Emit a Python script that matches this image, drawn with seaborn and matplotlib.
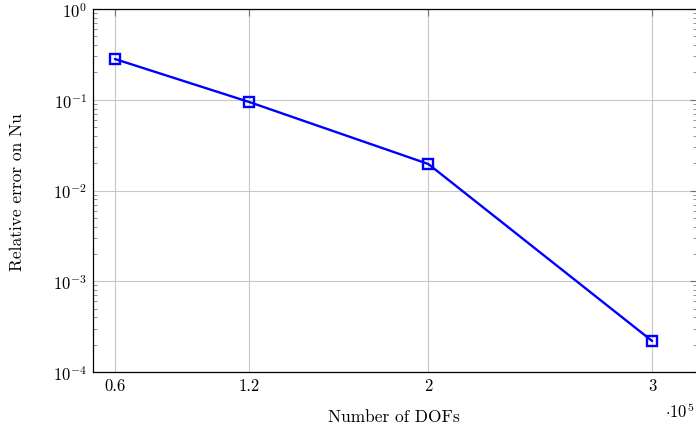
import matplotlib
matplotlib.use("Agg")
import matplotlib.pyplot as plt
import seaborn as sns
import pandas as pd
import numpy as np
from matplotlib.ticker import LogLocator, FixedLocator, NullFormatter

dofs = [0.6, 1.2, 2.0, 3.0]          # x 10^5
rel_err = [0.281, 0.0944, 0.0196, 0.00022]
xtick_vals = [0.6, 1.2, 2.0, 3.0]
xtick_labels = ["0.6", "1.2", "2", "3"]

sns.set_style("white")
plt.rcParams["font.family"] = ["cmr10", "DejaVu Serif"]
plt.rcParams["mathtext.fontset"] = "cm"
plt.rcParams["axes.formatter.use_mathtext"] = True
plt.rcParams["text.color"] = "black"
plt.rcParams["axes.labelcolor"] = "black"
plt.rcParams["xtick.labelcolor"] = "black"
plt.rcParams["ytick.labelcolor"] = "black"

df = pd.DataFrame({"dofs": dofs, "err": rel_err})

fig = plt.figure(figsize=(6.96, 4.27), dpi=100)
ax = fig.add_axes([92.6 / 696, 1 - 373 / 427, (696.8 - 92.6) / 696, (373 - 10) / 427])

sns.lineplot(data=df, x="dofs", y="err", ax=ax, color="#0000ff", lw=1.7,
             marker="s", markersize=7, markerfacecolor="none",
             markeredgecolor="#0000ff", markeredgewidth=1.7, zorder=5)

ax.set_yscale("log")
ax.set_ylim(1e-4, 1)
ax.set_xlim(0.5, 3.2)

ax.xaxis.set_major_locator(FixedLocator(xtick_vals))
ax.set_xticklabels(xtick_labels)
ax.yaxis.set_major_locator(LogLocator(base=10, numticks=10))
ax.yaxis.set_minor_locator(LogLocator(base=10, subs=np.arange(2, 10), numticks=10))
ax.yaxis.set_minor_formatter(NullFormatter())

ax.grid(True, which="major", color="#c8c8c8", lw=0.8)
ax.set_axisbelow(True)
for s in ax.spines.values():
    s.set_color("black")
    s.set_linewidth(0.9)

ax.tick_params(axis="both", which="major", direction="in", length=5, width=0.8,
               color="#707070", top=True, right=True, labelsize=12, pad=4,
               labelcolor="black")
ax.tick_params(axis="y", which="minor", direction="in", length=3, width=0.6,
               color="#808080", left=True, right=True)

ax.set_xlabel("Number of DOFs", fontsize=12.5, color="black")
ax.set_ylabel("Relative error on Nu", fontsize=12.5, color="black")
ax.xaxis.set_label_coords((394 - 92.6) / (696.8 - 92.6), -(417 - 373) / 363, transform=ax.transAxes)
ax.yaxis.set_label_coords(-(92.6 - 17) / (696.8 - 92.6), (373 - 192) / 363, transform=ax.transAxes)
ax.xaxis.label.set_va("center")
ax.yaxis.label.set_va("center")
fig.text(694 / 696, 1 - 411 / 427, r"$\cdot 10^{5}$", fontsize=12, ha="right", va="center",
         color="black")

fig.savefig("out.png", dpi=100)
